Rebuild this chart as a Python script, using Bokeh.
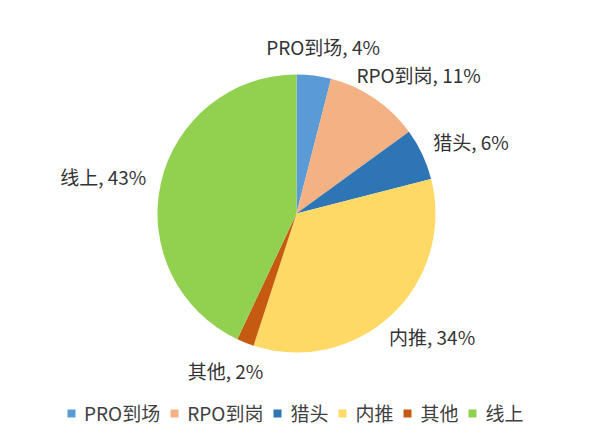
import math
from bokeh.plotting import figure
from bokeh.models import ColumnDataSource, Legend, LegendItem, Range1d
from bokeh.core.properties import value
from bokeh.embed import file_html
from bokeh.resources import INLINE

categories = ["PRO到场", "RPO到岗", "猎头", "内推", "其他", "线上"]
percents = [4, 11, 6, 34, 2, 43]
colors = ["#5B9BD5", "#F4B183", "#2E75B6", "#FFD966", "#C55A11", "#92D050"]

W, H = 592, 426
CX, CY, R = 296, 213, 139
FONT = "Noto Sans CJK SC"

p = figure(width=W, height=H, x_range=Range1d(0, W), y_range=Range1d(0, H),
           x_axis_type=None, y_axis_type=None, min_border=0,
           toolbar_location=None, output_backend="svg")
p.grid.visible = False
p.outline_line_color = None

total = float(sum(percents))
starts, ends, mids = [], [], []
cum = 0.0
for v in percents:
    a0 = math.pi / 2 - 2 * math.pi * cum / total
    cum += v
    a1 = math.pi / 2 - 2 * math.pi * cum / total
    starts.append(a0)
    ends.append(a1)
    mids.append((a0 + a1) / 2)

items = []
for i, c in enumerate(categories):
    r = p.wedge(x=CX, y=CY, radius=R, start_angle=starts[i], end_angle=ends[i],
                direction="clock", fill_color=colors[i], line_color=None)
    items.append(LegendItem(label=c, renderers=[r]))

# data labels (outside end, best-fit style)
LR = R + 16
for i, c in enumerate(categories):
    dx, dy = math.cos(mids[i]), math.sin(mids[i])
    ax = 0.5 - 0.5 * dx
    ay = 0.5 + 0.5 * dy  # fraction from top
    s = ColumnDataSource(dict(x=[CX + LR * dx], y=[CY + LR * dy],
                              t=["%s, %d%%" % (c, percents[i])]))
    p.text(x="x", y="y", text="t", source=s, anchor=value((ax, ay)),
           text_font=value(FONT), text_font_size="19px", text_color="#333333")

legend = Legend(items=items, orientation="horizontal", location=(66, 0),
                glyph_width=10, glyph_height=10, label_standoff=8, spacing=9,
                padding=0, margin=0, border_line_color=None,
                background_fill_alpha=0,
                label_text_font=FONT, label_text_font_size="19px",
                label_text_color="#404040")
p.add_layout(legend)

open("out.html", "w").write(file_html(p, INLINE))
